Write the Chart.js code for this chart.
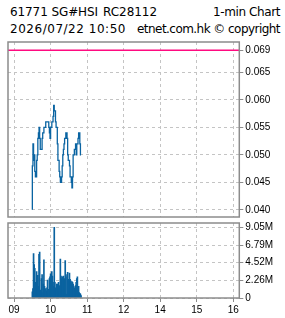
<!DOCTYPE html>
<html>
<head>
<meta charset="utf-8">
<script src="https://cdn.jsdelivr.net/npm/chart.js@4.4.1/dist/chart.umd.min.js"></script>
<style>
  html, body { margin:0; padding:0; background:#fff; }
  body { width:285px; height:318px; position:relative; overflow:hidden; }
  .t { position:absolute; font-family:"DejaVu Sans"; font-size:12px; line-height:12px; white-space:pre; color:#000; }
  #c1 { position:absolute; left:0; top:0; }
  #c2 { position:absolute; left:0; top:215px; }
</style>
</head>
<body>
<div class="t" id="h1" style="left:10px;top:6px">61771 SG#HSI</div>
<div class="t" id="h2" style="left:103px;top:6px">RC28112</div>
<div class="t" id="h3" style="left:213px;top:6px">1-min Chart</div>
<div class="t" id="h4" style="left:10px;top:23px">2026/07/22 10:50</div>
<div class="t" id="h5" style="left:137px;top:23px">etnet.com.hk © copyright</div>
<canvas id="c1" width="285" height="225"></canvas>
<canvas id="c2" width="285" height="103"></canvas>
<script>
// ---------- data ----------
const startTime = '09:30';
const prevClose = 0.069;
const prices = [
  0.040,0.048,0.052,0.049,0.050,0.047,0.046,0.046,0.049,0.050,
  0.053,0.054,0.055,0.053,0.051,0.051,0.051,0.053,0.054,0.054,
  0.055,0.055,0.055,0.056,0.056,0.056,0.056,0.056,0.055,0.054,
  0.053,0.055,0.055,0.056,0.056,0.057,0.059,0.058,0.058,0.056,
  0.055,0.055,0.052,0.049,0.049,0.047,0.046,0.045,0.045,0.046,
  0.048,0.050,0.051,0.052,0.053,0.053,0.054,0.054,0.053,0.050,
  0.049,0.049,0.048,0.046,0.046,0.045,0.044,0.046,0.050,0.050,
  0.051,0.051,0.052,0.050,0.052,0.052,0.053,0.054,0.054,0.052,
  0.050
];
const volumeM = [
  0.8,1.2,5.7,4.3,3.8,2.0,1.2,3.4,2.6,2.9,
  1.5,5.6,5.9,1.0,0.8,2.5,3.0,0.7,1.8,4.9,
  1.5,1.2,1.0,0.9,1.3,2.3,0.5,1.1,2.5,2.7,
  3.1,2.5,3.4,2.8,2.0,1.5,9.05,2.0,1.3,1.0,
  1.8,1.8,1.6,2.0,0.8,1.6,5.0,2.8,2.5,2.7,
  2.5,2.8,2.4,2.5,4.8,2.7,0.5,3.0,3.3,2.4,
  1.9,3.2,2.4,2.2,1.8,2.1,2.0,1.8,1.5,1.3,
  1.2,1.6,2.0,2.5,2.7,1.2,1.5,0.7,0.6,0.5,
  0.3
];
const xTickTimes  = ['09:00','10:00','11:00','12:00','14:00','15:00','16:00'];
const xTickLabels = ['09','10','11','12','14','15','16'];
const priceTicks  = [0.040,0.045,0.050,0.055,0.060,0.065,0.069];
const volTicks    = [0, 2.2625, 4.525, 6.7875, 9.05];
const volTickLabels = ['0','2.26M','4.52M','6.79M','9.05M'];

// ---------- helpers ----------
function tradeMin(hhmm){ // trading minutes from 09:00, lunch 12:00-13:00 removed
  const [h,m] = hhmm.split(':').map(Number);
  const t = (h-9)*60+m;
  return h>=13 ? t-60 : t;
}
const x0 = tradeMin(startTime);
const priceData = prices.map((p,i)=>({x:x0+i, y:p}));
const volData = volumeM.map((v,i)=>({x:x0+i, y:v}));
const xTickVals = xTickTimes.map(tradeMin);

function fit(id, w){
  const el=document.getElementById(id);
  const n=el.textContent.length;
  const nat=el.getBoundingClientRect().width;
  el.style.letterSpacing=((w-nat)/n)+'px';
}
fit('h1',88); fit('h2',54); fit('h3',67); fit('h4',116); fit('h5',143);

const frame = {
  id:'frame',
  afterDraw(chart){
    const a=chart.chartArea, c=chart.ctx;
    c.save(); c.strokeStyle='#8c8c8c'; c.lineWidth=1.5; c.setLineDash([]);
    c.strokeRect(a.left, a.top, a.right-a.left, a.bottom-a.top);
    c.restore();
  }
};

const gridCol = '#c4c4c4';
const tickFont = {family:'Liberation Sans', size:10};
function xScale(showLabels){
  return {
    type:'linear', min:-10, max:370, offset:false,
    afterBuildTicks(s){ s.ticks = xTickVals.map(v=>({value:v})); },
    ticks:{ display:showLabels, color:'#000', font:tickFont, padding:2, maxRotation:0, autoSkip:false,
      callback(v){ const k=xTickVals.indexOf(v); return k>=0?xTickLabels[k]:''; } },
    grid:{ offset:false, color:gridCol, drawTicks:showLabels, tickLength:4, tickColor:'#8c8c8c', tickBorderDash:[] },
    border:{ display:false, dash:[3,3] },
    afterFit(s){ s.height = showLabels ? 20 : 0; }
  };
}

Chart.defaults.animation = false;
Chart.defaults.font.family = 'Liberation Sans';

new Chart(document.getElementById('c1'), {
  type:'line',
  data:{ datasets:[
    { data:priceData, borderColor:'#0a64a2', borderWidth:1.3, pointRadius:0, stepped:'after', fill:false, order:1 },
    { data:[{x:-10,y:prevClose},{x:370,y:prevClose}], borderColor:'#ff0a80', borderWidth:1.5, pointRadius:0, fill:false, order:2 }
  ]},
  options:{
    responsive:false, maintainAspectRatio:false,
    layout:{ padding:{left:8, top:42, right:0, bottom:0} },
    plugins:{ legend:{display:false}, tooltip:{enabled:false} },
    scales:{
      x: xScale(false),
      y:{
        position:'right', min:0.0387, max:0.0705,
        afterBuildTicks(s){ s.ticks = priceTicks.map(v=>({value:v})); },
        ticks:{ color:'#000', font:tickFont, padding:2, callback:v=>v.toFixed(3) },
        grid:{ color:gridCol, tickLength:4, tickColor:'#8c8c8c', tickBorderDash:[] },
        border:{ display:false, dash:[3,3] },
        afterFit(s){ s.width = 45.7; }
      }
    }
  },
  plugins:[frame]
});

new Chart(document.getElementById('c2'), {
  type:'bar',
  data:{ datasets:[
    { data:volData, backgroundColor:'#0b63a0', barThickness:1, borderWidth:0 }
  ]},
  options:{
    responsive:false, maintainAspectRatio:false,
    layout:{ padding:{left:8, top:0, right:0, bottom:0} },
    plugins:{ legend:{display:false}, tooltip:{enabled:false} },
    scales:{
      x: xScale(true),
      y:{
        position:'right', min:0, max:9.62,
        afterBuildTicks(s){ s.ticks = volTicks.map(v=>({value:v})); },
        ticks:{ color:'#000', font:tickFont, padding:2,
          callback(v){ const k=volTicks.indexOf(v); return k>=0?volTickLabels[k]:''; } },
        grid:{ color:gridCol, tickLength:4, tickColor:'#8c8c8c', tickBorderDash:[] },
        border:{ display:false, dash:[3,3] },
        afterFit(s){ s.width = 45.7; }
      }
    }
  },
  plugins:[frame]
});
</script>
</body>
</html>
